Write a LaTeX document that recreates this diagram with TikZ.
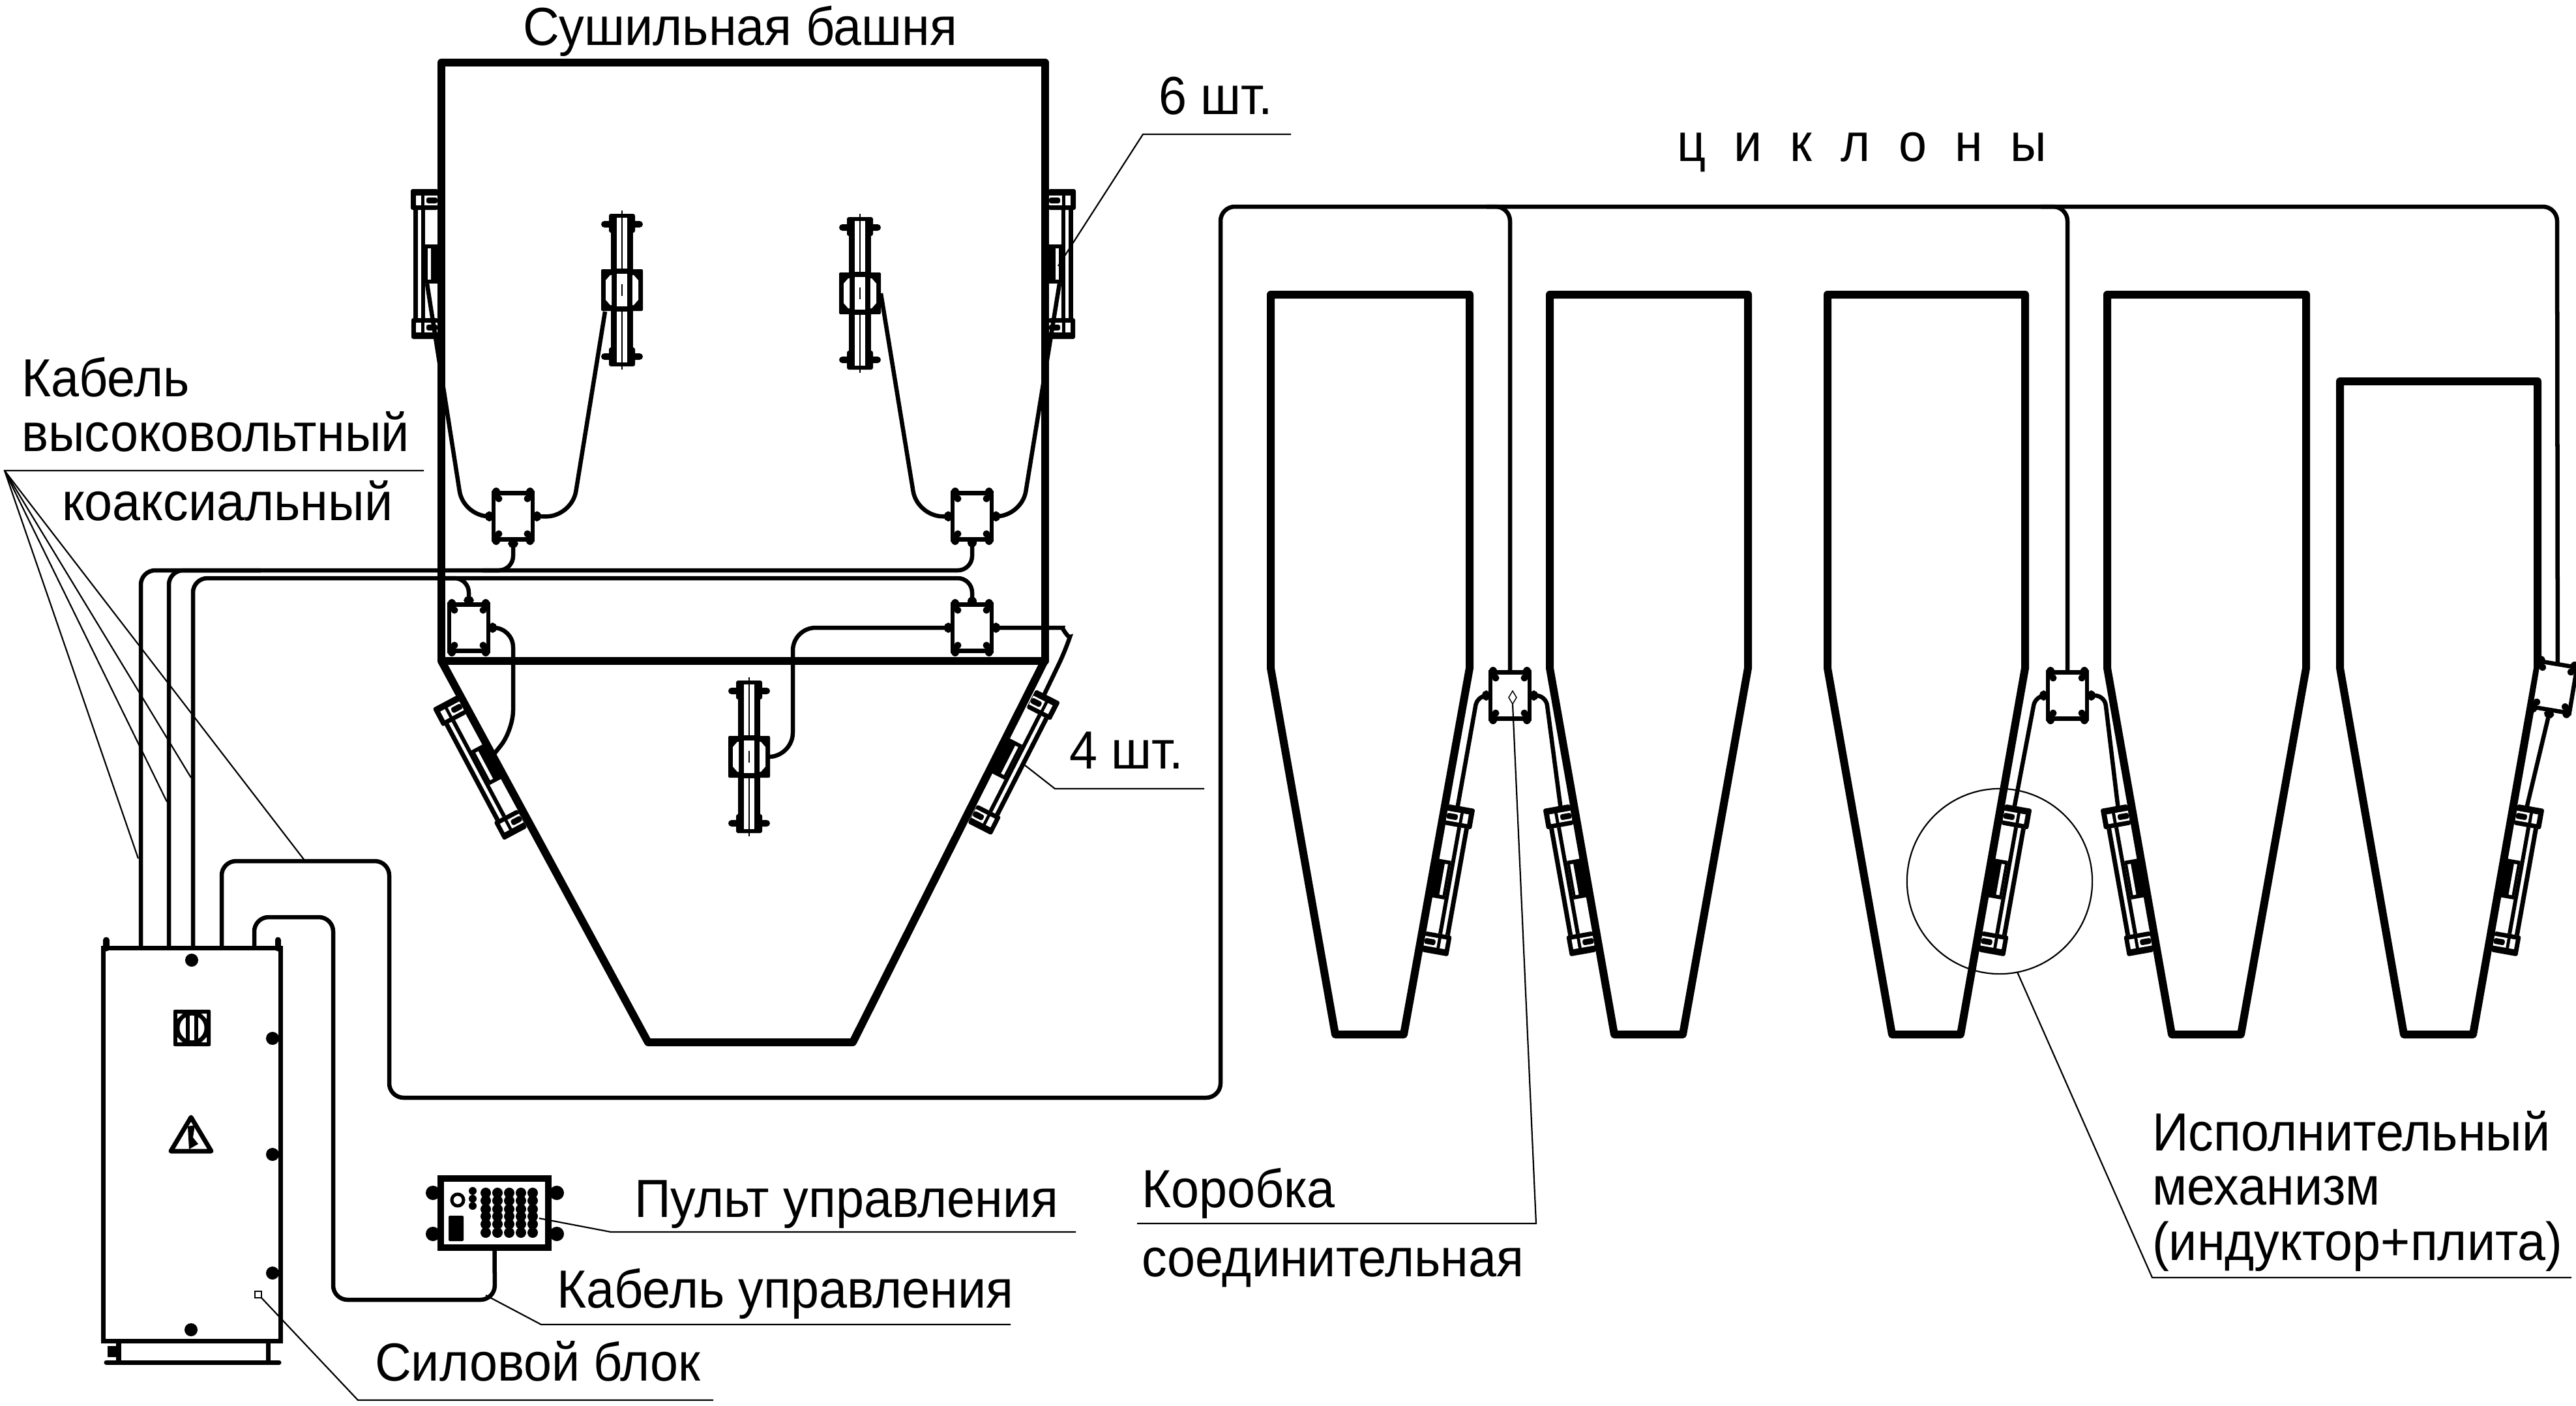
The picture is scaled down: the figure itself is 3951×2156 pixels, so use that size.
\documentclass[tikz,border=0pt]{standalone}
\usepackage{fontspec}
\setmainfont[FakeStretch=0.94]{Liberation Sans}
\usetikzlibrary{arrows.meta}
\tikzstyle{every picture}+=[x=0.01cm,y=-0.01cm]
\tikzstyle{wall}=[draw,line width=0.12cm,line join=round]
\tikzstyle{cable}=[draw,line width=0.065cm,rounded corners=0.22cm]
\tikzstyle{cableg}=[cable,{Circle[length=0.13cm,width=0.15cm]}-]
\tikzstyle{leader}=[draw,line width=0.022cm]
\tikzstyle{jbox}=[rectangle,draw,line width=0.065cm,fill=white,minimum width=0.6cm,minimum height=0.71cm,inner sep=0pt,outer sep=0pt]
\tikzstyle{lbl}=[anchor=base west,inner sep=0pt,outer sep=0pt,font=\fontsize{23.4}{25}\selectfont]

\tikzset{
    frontunit/.pic={
        \fill[rounded corners=0.03cm] (-20,-117) rectangle (20,-88);
        \fill[rounded corners=0.03cm] (-20,88) rectangle (20,117);
        \fill[rounded corners=0.05cm] (-32,-106) rectangle (32,-96);
        \fill[rounded corners=0.05cm] (-32,97) rectangle (32,107);
        \fill (-17,-88) rectangle (17,88);
        \fill[rounded corners=0.02cm] (-32,-32) rectangle (32,32);
        \fill[white] (-8,-111) rectangle (8,-33);
        \fill[white] (-8,33) rectangle (8,111);
        \fill[white] (-8,-25) rectangle (8,25);
        \fill[white] (-25,-15) -- (-18,-23) -- (-16,-23) -- (-16,23) -- (-18,23) -- (-25,15) -- cycle;
        \fill[white] (25,-15) -- (18,-23) -- (16,-23) -- (16,23) -- (18,23) -- (25,15) -- cycle;
        \draw[line width=0.022cm] (0,-122) -- (0,-33);
        \draw[line width=0.022cm] (0,33) -- (0,122);
        \draw[line width=0.022cm] (0,-9) -- (0,9);
        \coordinate (-sw) at (-26,33);
        \coordinate (-e) at (32,0);
    },
    sideunit/.pic={
        \fill[rounded corners=0.03cm] (-47,-115) rectangle (-5,-83);
        \fill[rounded corners=0.03cm] (-46,83) rectangle (-5,115);
        \foreach \s in {-1,1}{
            \fill[white] (-39,\s*105) rectangle (-31,\s*90);
            \fill[white] (-26,\s*105) rectangle (-6,\s*90);
            \fill[rounded corners=0.03cm] (-23,\s*102) rectangle (-6,\s*93);
        }
        \fill (-43,-83) rectangle (-36,83);
        \fill (-31,-83) rectangle (-25,83);
        \fill (-25,-30) rectangle (0,30);
        \fill[white] (-21,-24) rectangle (-16,24);
        \coordinate (-in) at (-22,30);
        \coordinate (-top) at (-20,-113);
        \coordinate (-mid) at (-3,-6);
    }
}

% junction box with ears
\newcommand{\jbox}[3][0]{
    \node[jbox,rotate=#1] (#2) at (#3) {};
    \begin{scope}[shift={(#3)},rotate=#1]
        \foreach \a in {-1,1}{
            \foreach \b in {-1,1}{
                \fill (\a*26,\b*36) ellipse (0.065cm and 0.08cm);
                \fill (\a*22,\b*27) circle (0.055cm);
            }
        }
    \end{scope}
}

\newcommand{\cyclone}[5]{
    \draw[wall] (#1,#3) -- (#2,#3) -- (#2,1025) -- (#5,1587) -- (#4,1587) -- (#1,1025) -- cycle;
}

\begin{document}
\begin{tikzpicture}

    \useasboundingbox (0,0) rectangle (3951,2156);

    % tower
    \draw[wall] (677,96) rectangle (1603,1014);
    \draw[wall] (677,1014) -- (994,1599) -- (1308,1599) -- (1602,1014);

    \pic (M1) at (954,445) {frontunit};
    \pic (M2) at (1319,450) {frontunit};
    \pic (M3) at (1149,1161) {frontunit};
    \pic (T1) at (677,405) {sideunit};
    \pic[xscale=-1] (T2) at (1603,405) {sideunit};
    \pic[rotate=28] (H1) at (759,1166) {sideunit};
    \pic[rotate=-27,xscale=-1] (H2) at (1532,1158) {sideunit};

    % cyclones
    \cyclone{1949}{2254}{452}{2048}{2153}
    \cyclone{2377}{2681}{452}{2476}{2581}
    \cyclone{2803}{3106}{452}{2902}{3007}
    \cyclone{3232}{3537}{452}{3331}{3437}
    \cyclone{3589}{3892}{585}{3687}{3793}

    \pic[rotate=-10.1,xscale=-1] (C1) at (2196,1346) {sideunit};
    \pic[rotate=10.1] (C2) at (2433,1346) {sideunit};
    \pic[rotate=-10.1,xscale=-1] (C3) at (3050,1346) {sideunit};
    \pic[rotate=10.1] (C4) at (3288,1346) {sideunit};
    \pic[rotate=-10.1,xscale=-1] (C5) at (3836,1346) {sideunit};

    \jbox{J1}{787,792}
    \jbox{J2}{1491,792}
    \jbox{J3}{719,963}
    \jbox{J4}{1491,963}
    \jbox{J5}{2316,1067}
    \jbox{J6}{3171,1067}
    \jbox[-9.5]{J7}{3917,1054}

    % power block
    \node[draw,rectangle,line width=0.07cm,minimum width=2.71cm,minimum height=6.02cm,inner sep=0pt,outer sep=0pt] (PB) at (294.5,1756) {};
    \draw[line width=0.09cm,line cap=round] (163,1455) -- (163,1442);
    \draw[line width=0.09cm,line cap=round] (426,1455) -- (426,1442);
    \draw[line width=0.07cm] (182,2057) -- (182,2090);
    \draw[line width=0.07cm] (411,2057) -- (411,2090);
    \draw[line width=0.07cm,line cap=round] (163,2090) -- (428,2090);
    \fill (165,2065) rectangle (182,2082);
    \foreach \x/\y in {294/1473,418/1593,418/1771,418/1953,293/2040}{
        \fill (\x,\y) circle (0.1cm);
    }
    \fill[rounded corners=0.02cm] (266,1549) rectangle (323,1605);
    \fill[white] (294.5,1577) circle (0.19cm);
    \fill[white] (272,1555) -- (280,1555) -- (272,1563) -- cycle;
    \fill[white] (317,1555) -- (309,1555) -- (317,1563) -- cycle;
    \fill[white] (272,1599) -- (280,1599) -- (272,1591) -- cycle;
    \fill[white] (317,1599) -- (309,1599) -- (317,1591) -- cycle;
    \fill (285,1558) rectangle (291,1596);
    \fill (298,1558) rectangle (304,1596);
    \draw[line width=0.07cm,line join=round] (293,1714) -- (324,1766) -- (262,1766) -- cycle;
    \fill (288,1728) -- (299,1726) -- (296,1745) -- (304,1755) -- (290,1763) -- cycle;

    % control panel
    \node[draw,rectangle,line width=0.1cm,minimum width=1.65cm,minimum height=1.06cm,inner sep=0pt,outer sep=0pt] (CP) at (758.5,1861) {};
    \foreach \x in {664,854}{
        \foreach \y in {1830,1893}{
            \fill (\x,\y) circle (0.11cm);
        }
    }
    \draw[line width=0.05cm] (702,1841) circle (0.09cm);
    \fill[rounded corners=0.02cm] (688,1865) rectangle (711,1904);
    \foreach \y in {1827,1839,1850}{
        \fill (725,\y) circle (0.06cm);
    }
    \foreach \x in {745,763,781,799,817}{
        \foreach \y in {1830,1842,1855,1866,1878,1891}{
            \fill (\x,\y) circle (0.08cm);
        }
    }

    % cable ends on the block
    \coordinate (pba) at (216,1455);
    \coordinate (pbb) at (259,1455);
    \coordinate (pbc) at (296,1455);
    \coordinate (pbd) at (340,1455);
    \coordinate (pbe) at (390,1455);

    % cables
    \draw[cable] (pba) -- (216,875) -- (1491,875) -- (J2.south);
    \draw[cable] (pbb) -- (259,875) -- (400,875);
    \draw[cableg] (J1.south) -- (787,875) -- (740,875);
    \fill (J2.south) ++(0,5) circle (0.07cm);
    \draw[cable] (pbc) -- (296,887) -- (1491,887) -- (J4.north);
    \draw[cableg] (J3.north) -- (719,887) -- (680,887);
    \fill (J4.north) ++(0,-5) circle (0.07cm);
    \draw[cable] (pbd) -- (340,1321) -- (597,1321) -- (597,1684) -- (1872,1684) -- (1872,317) -- (3922,317) -- (J7.north);
    \draw[cable] (J5.north) -- (2316,317) -- (2280,317);
    \draw[cable] (J6.north) -- (3171,317) -- (3130,317);
    \draw[cable] (pbe) -- (390,1407) -- (511,1407) -- (511,1994) -- (759,1994) -- (CP.south);

    \draw[cableg,rounded corners=0.4cm] (J1.west) -- (711,793) -- (T1-in);
    \draw[cableg,rounded corners=0.4cm] (J1.east) -- (877,793) -- (M1-sw);
    \draw[cableg,rounded corners=0.4cm] (J2.west) -- (1407,793) -- (M2-e);
    \draw[cableg,rounded corners=0.4cm] (J2.east) -- (1567,793) -- (T2-in);
    \draw[cableg,rounded corners=0.3cm] (J3.east) -- (787,963) -- (787,1120) -- (H1-mid);
    \draw[cableg,rounded corners=0.35cm] (J4.west) -- (1216,963) -- (1216,1159) -- (M3-e);
    \draw[cableg] (J4.east) -- (1608,963) .. controls (1628,963) and (1640,980) .. (1634,998) -- (H2-top);

    \draw[cableg,rounded corners=0.15cm] (J5.west) -- (2266,1067) -- (C1-top);
    \draw[cableg,rounded corners=0.15cm] (J5.east) -- (2371,1067) -- (C2-top);
    \draw[cableg,rounded corners=0.15cm] (J6.west) -- (3122,1067) -- (C3-top);
    \draw[cableg,rounded corners=0.15cm] (J6.east) -- (3228,1067) -- (C4-top);
    \draw[cableg] (J7.south) -- (C5-top);

    % labels
    \node[lbl] (tTower) at (802,69) {Сушильная башня};
    \node[lbl] (tSix) at (1777,175) {6 шт.};
    \node[lbl] (tFour) at (1640,1179) {4 шт.};
    \node[lbl,anchor=base] (tCyc) at (2856,247) {\addfontfeatures{LetterSpace=52}циклоны};
    \node[lbl] (tKab) at (33,608) {Кабель};
    \node[lbl] (tHv) at (33,692) {высоковольтный};
    \node[lbl] (tCo) at (95,798) {коаксиальный};
    \node[lbl] (tPanel) at (973,1867) {Пульт управления};
    \node[lbl] (tCtl) at (854,2006) {Кабель управления};
    \node[lbl] (tPow) at (575,2118) {Силовой блок};
    \node[lbl] (tBox) at (1751,1852) {Коробка};
    \node[lbl] (tJoin) at (1751,1958) {соединительная};
    \node[lbl] (tAct) at (3301,1765) {Исполнительный};
    \node[lbl] (tMech) at (3301,1848) {механизм};
    \node[lbl] (tInd) at (3301,1933) {(индуктор+плита)};

    % leaders
    \coordinate (fan) at (7,722);
    \coordinate (fanA) at (212,1317);
    \coordinate (fanB) at (256,1230);
    \coordinate (fanC) at (293,1193);
    \coordinate (fanD) at (468,1321);
    \draw[leader] (650,722) -- (fan) -- (fanA);
    \draw[leader] (fan) -- (fanB);
    \draw[leader] (fan) -- (fanC);
    \draw[leader] (fan) -- (fanD);

    \coordinate (sixA) at (1623,408);
    \coordinate (sixB) at (1753,206);
    \draw[leader] (sixA) -- (sixB) -- (1980,206);

    \coordinate (fourA) at (1572,1174);
    \coordinate (fourB) at (1618,1210);
    \draw[leader] (fourA) -- (fourB) -- (1847,1210);

    \draw[leader,fill=white] (391,1981) rectangle (401,1991);
    \coordinate (powA) at (401,1991);
    \coordinate (powB) at (549,2148);
    \draw[leader] (powA) -- (powB) -- (1094,2148);

    \coordinate (ctlA) at (745,1987);
    \coordinate (ctlB) at (830,2032);
    \draw[leader] (ctlA) -- (ctlB) -- (1550,2032);

    \coordinate (panA) at (827,1869);
    \coordinate (panB) at (937,1890);
    \draw[leader] (panA) -- (panB) -- (1650,1890);

    \draw[line width=0.015cm] (2320,1060) -- (2326,1070) -- (2320,1080) -- (2314,1070) -- cycle;
    \coordinate (boxA) at (2320,1080);
    \coordinate (boxB) at (2356,1877);
    \draw[leader] (boxA) -- (boxB) -- (1744,1877);

    \node[draw,circle,line width=0.022cm,minimum size=2.84cm,inner sep=0pt,outer sep=0pt] (ring) at (3067,1352) {};
    \coordinate (actB) at (3301,1960);
    \draw[leader] (ring.-79) -- (actB) -- (3944,1960);

\end{tikzpicture}
\end{document}
